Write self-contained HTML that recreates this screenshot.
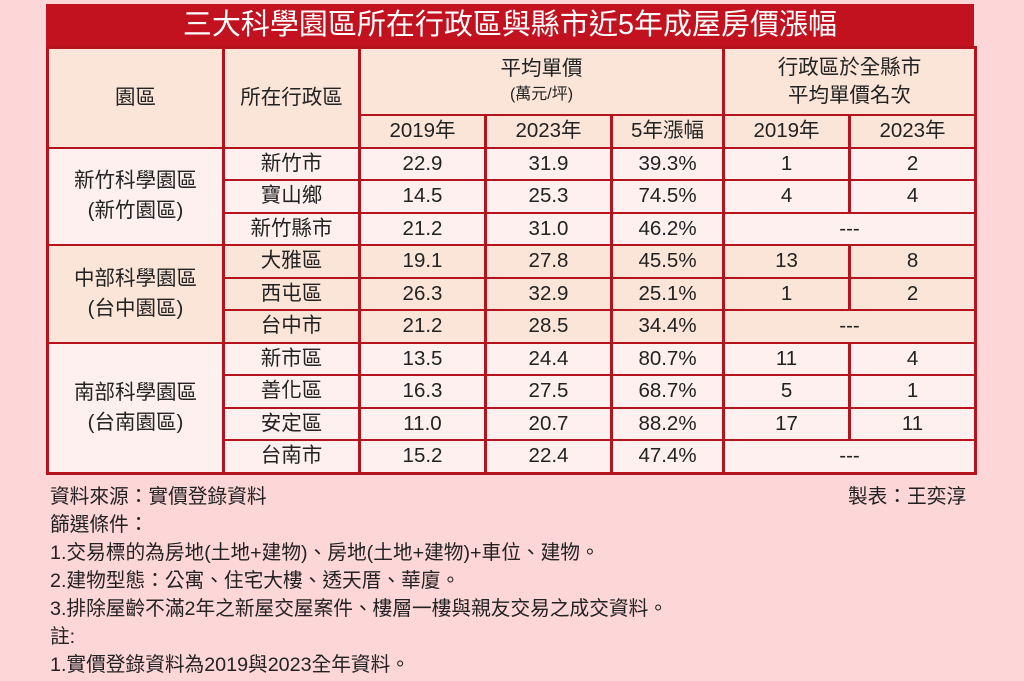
<!DOCTYPE html>
<html><head><meta charset="utf-8"><style>
body{margin:0;width:1024px;height:681px;background:#fdd6d7;font-family:"Liberation Sans","Noto Sans CJK TC",sans-serif;position:relative;overflow:hidden;color:#222}
.title{position:absolute;left:46px;top:4px;width:928px;height:42px;background:#c2121f;color:#fff;font-size:29px;text-align:center;line-height:42px}
table{position:absolute;left:46px;top:46px;width:928px;border-collapse:collapse;table-layout:fixed;font-size:20.5px}
td{border:2px solid #b5141e;border-left-width:3px;border-right-width:3px;text-align:center;padding:0;height:30.5px;line-height:28px}
.h td{background:#fbe5d8}
.p td{background:#fdf0ef}
.q td{background:#fbe5d8}
table{border:3px solid #b5141e}
.f{position:absolute;left:50px;font-size:19.7px;line-height:22px}
</style></head><body>
<div class="title">三大科學園區所在行政區與縣市近5年成屋房價漲幅</div>
<table>
<colgroup><col style="width:176px"><col style="width:136px"><col style="width:126px"><col style="width:126px"><col style="width:112px"><col style="width:126px"><col style="width:126px"></colgroup>
<tr class="h"><td rowspan="2" style="height:97px">園區</td><td rowspan="2">所在行政區</td><td colspan="3" style="height:65px;line-height:24px">平均單價<br><span style="font-size:16px">(萬元/坪)</span></td><td colspan="2" style="line-height:28px">行政區於全縣市<br>平均單價名次</td></tr>
<tr class="h"><td>2019年</td><td>2023年</td><td>5年漲幅</td><td>2019年</td><td>2023年</td></tr>
<tr class="p"><td rowspan="3" style="line-height:30px">新竹科學園區<br>(新竹園區)</td><td>新竹市</td><td>22.9</td><td>31.9</td><td>39.3%</td><td>1</td><td>2</td></tr>
<tr class="p"><td>寶山鄉</td><td>14.5</td><td>25.3</td><td>74.5%</td><td>4</td><td>4</td></tr>
<tr class="p"><td>新竹縣市</td><td>21.2</td><td>31.0</td><td>46.2%</td><td colspan="2">---</td></tr>
<tr class="q"><td rowspan="3" style="line-height:30px">中部科學園區<br>(台中園區)</td><td>大雅區</td><td>19.1</td><td>27.8</td><td>45.5%</td><td>13</td><td>8</td></tr>
<tr class="q"><td>西屯區</td><td>26.3</td><td>32.9</td><td>25.1%</td><td>1</td><td>2</td></tr>
<tr class="q"><td>台中市</td><td>21.2</td><td>28.5</td><td>34.4%</td><td colspan="2">---</td></tr>
<tr class="p"><td rowspan="4" style="line-height:30px">南部科學園區<br>(台南園區)</td><td>新市區</td><td>13.5</td><td>24.4</td><td>80.7%</td><td>11</td><td>4</td></tr>
<tr class="p"><td>善化區</td><td>16.3</td><td>27.5</td><td>68.7%</td><td>5</td><td>1</td></tr>
<tr class="p"><td>安定區</td><td>11.0</td><td>20.7</td><td>88.2%</td><td>17</td><td>11</td></tr>
<tr class="p"><td>台南市</td><td>15.2</td><td>22.4</td><td>47.4%</td><td colspan="2">---</td></tr>
</table>
<div class="f" style="top:486px">資料來源：實價登錄資料</div>
<div class="f" style="top:486px;left:848px">製表：王奕淳</div>
<div class="f" style="top:514px">篩選條件：</div>
<div class="f" style="top:542px">1.交易標的為房地(土地+建物)、房地(土地+建物)+車位、建物。</div>
<div class="f" style="top:570px">2.建物型態：公寓、住宅大樓、透天厝、華廈。</div>
<div class="f" style="top:598px">3.排除屋齡不滿2年之新屋交屋案件、樓層一樓與親友交易之成交資料。</div>
<div class="f" style="top:626px">註:</div>
<div class="f" style="top:654px">1.實價登錄資料為2019與2023全年資料。</div>
</body></html>
